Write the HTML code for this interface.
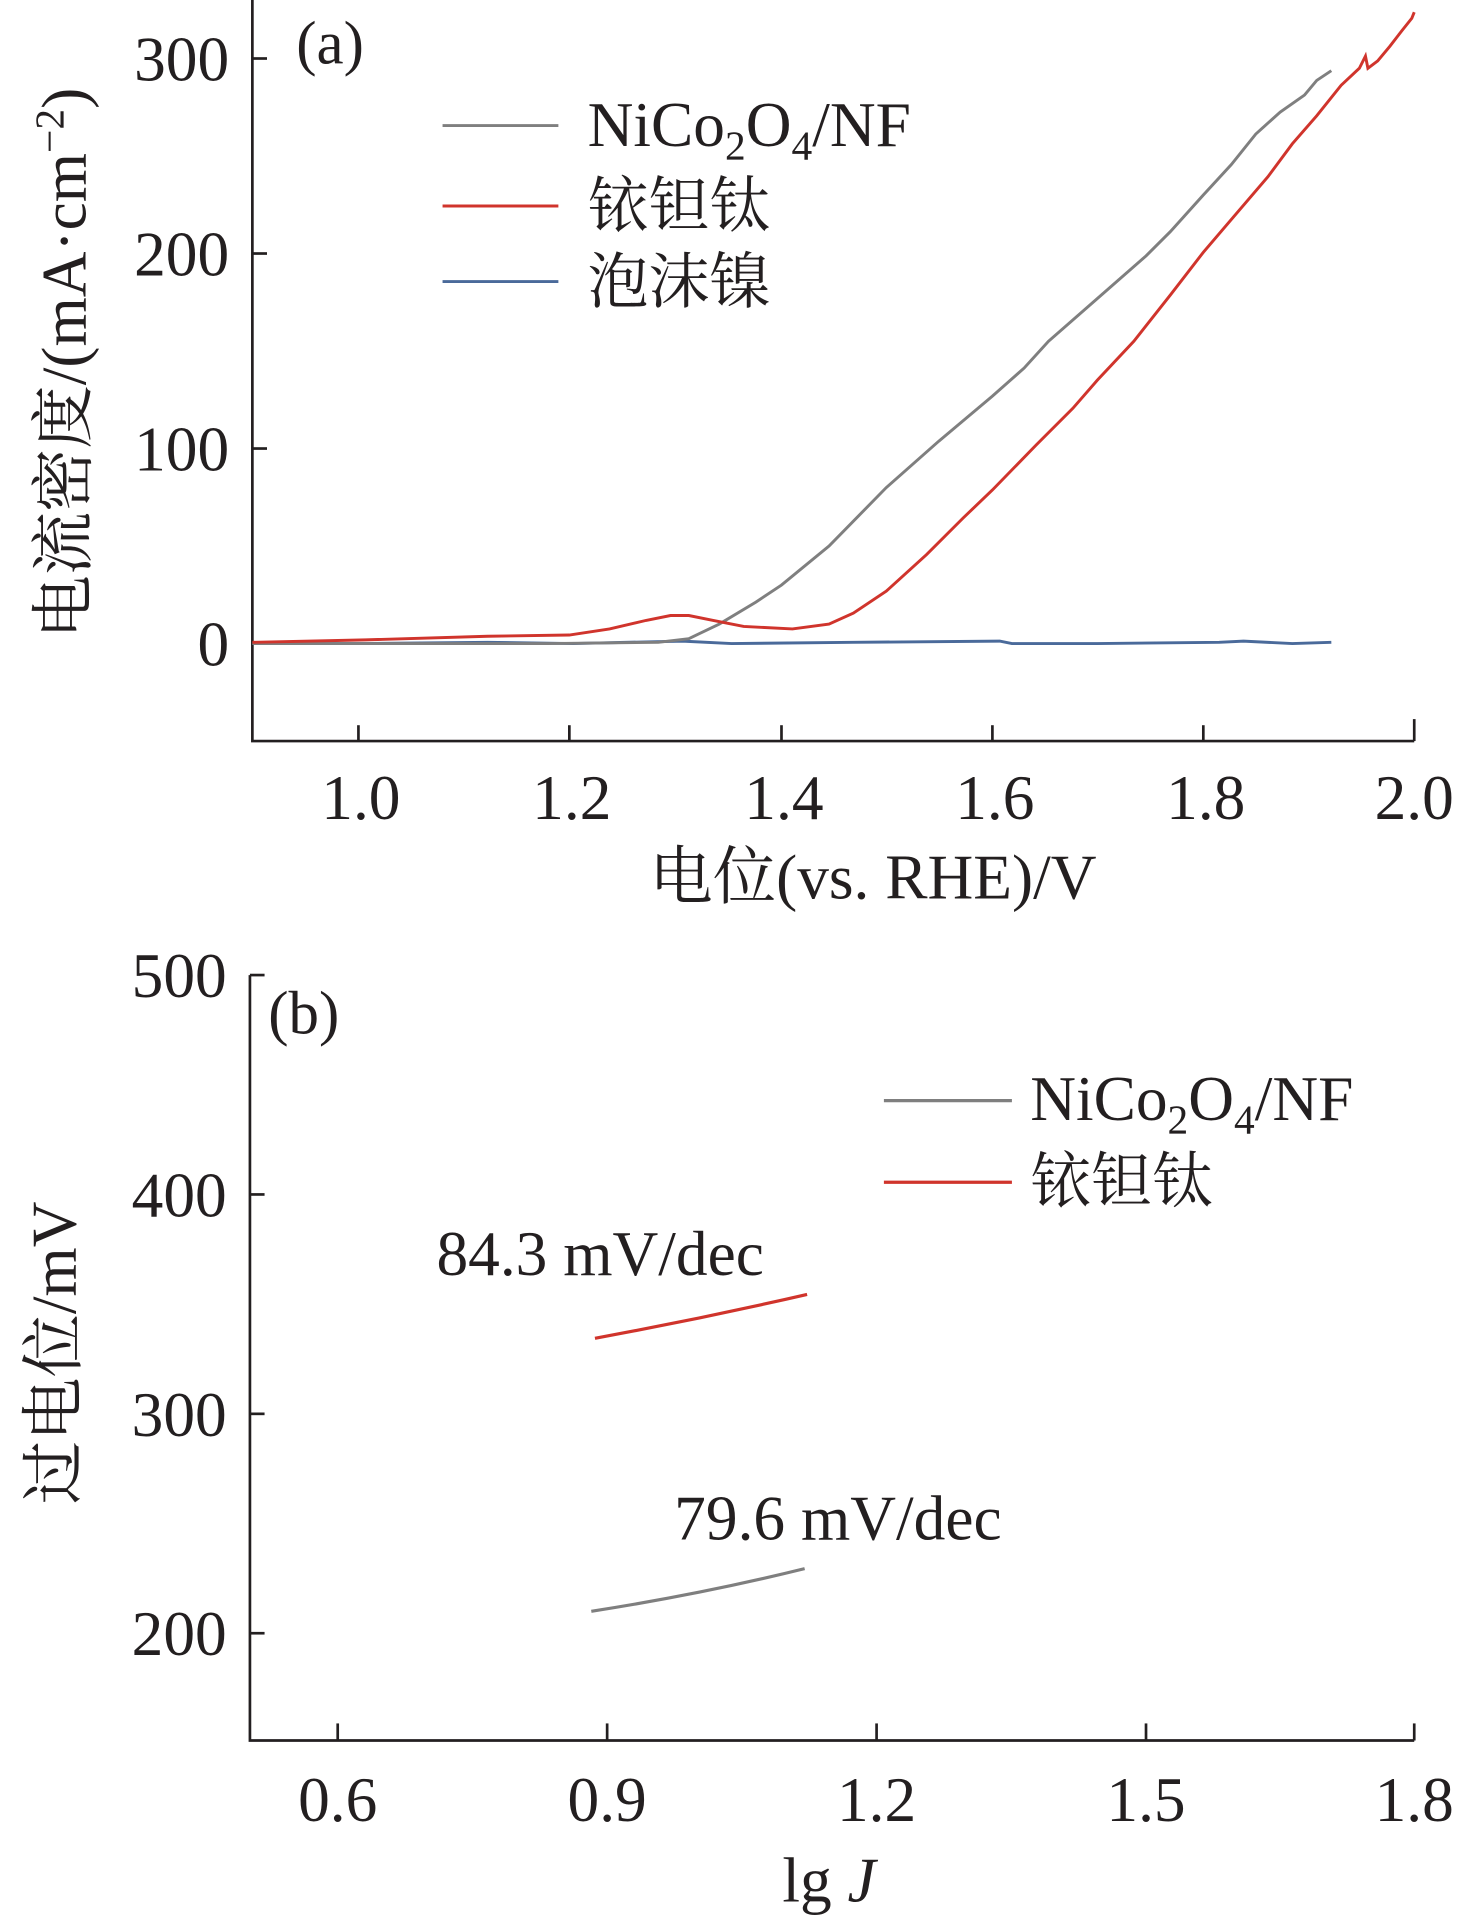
<!DOCTYPE html>
<html><head><meta charset="utf-8"><style>
html,body{margin:0;padding:0;background:#fff;}
svg{display:block;}
text{font-family:"Liberation Serif","Noto Serif CJK SC","Noto Sans CJK SC",serif;fill:#231f20;}
</style></head><body>
<svg width="1463" height="1916" viewBox="0 0 1200 1572" preserveAspectRatio="none" xmlns="http://www.w3.org/2000/svg">
<g stroke="#231f20" stroke-width="2.2" fill="none">
<polyline points="207,0 207,608 1160,608"/>
<line x1="207" y1="48" x2="219" y2="48"/><line x1="207" y1="208" x2="219" y2="208"/>
<line x1="207" y1="368" x2="219" y2="368"/><line x1="207" y1="528" x2="219" y2="528"/>
<line x1="294" y1="608" x2="294" y2="595"/><line x1="467" y1="608" x2="467" y2="595"/>
<line x1="641" y1="608" x2="641" y2="595"/><line x1="814" y1="608" x2="814" y2="595"/>
<line x1="987" y1="608" x2="987" y2="595"/><line x1="1160" y1="608" x2="1160" y2="590"/>
<polyline points="205,800 205,1428 1160,1428"/>
<line x1="205" y1="800" x2="217" y2="800"/><line x1="205" y1="980" x2="217" y2="980"/>
<line x1="205" y1="1160" x2="217" y2="1160"/><line x1="205" y1="1340" x2="217" y2="1340"/>
<line x1="277" y1="1428" x2="277" y2="1414"/><line x1="498" y1="1428" x2="498" y2="1414"/>
<line x1="719" y1="1428" x2="719" y2="1414"/><line x1="940" y1="1428" x2="940" y2="1414"/>
<line x1="1160" y1="1428" x2="1160" y2="1414"/>
</g>
<g fill="none" stroke-width="2.4">
<polyline stroke="#4a6a9a" points="207,528 300,528 400,527 470,528 560,526 600,528 700,527 820,526 830,528 900,528 1000,527 1020,526 1060,528 1092,527"/>
<polyline stroke="#7f7f7f" points="207,528 450,528 540,527 565,524 590,512 620,494 641,480 680,448 727,400 770,362 814,325 840,302 860,280 900,245 940,210 960,190 987,160 1010,135 1030,110 1050,92 1070,78 1080,66 1092,58"/>
<polyline stroke="#d0342c" points="207,527 300,525 400,522 467,521 500,516 530,509 550,505 565,505 585,509 610,514 650,516 680,512 700,503 727,485 760,455 790,425 814,402 850,365 880,335 900,312 930,280 960,242 987,207 1010,180 1040,145 1060,118 1080,95 1100,70 1115,56 1120,46 1122,56 1130,50 1140,38 1150,25 1158,15 1160,10"/>
</g>
<g stroke-width="2.4">
<line x1="363" y1="103" x2="458" y2="103" stroke="#7f7f7f"/>
<line x1="363" y1="169" x2="458" y2="169" stroke="#d0342c"/>
<line x1="363" y1="231" x2="458" y2="231" stroke="#4a6a9a"/>
</g>
<text x="482" y="120" font-size="52">NiCo<tspan font-size="34" dy="11">2</tspan><tspan dy="-11">O</tspan><tspan font-size="34" dy="11">4</tspan><tspan dy="-11">/NF</tspan></text>
<text x="482" y="186" font-size="50">铱钽钛</text>
<text x="482" y="248" font-size="50">泡沫镍</text>
<text x="243" y="52" font-size="50">(a)</text>
<g font-size="52" text-anchor="end">
<text x="188" y="66">300</text><text x="188" y="226">200</text><text x="188" y="386">100</text><text x="188" y="546">0</text>
</g>
<g font-size="52" text-anchor="middle">
<text x="296" y="672">1.0</text><text x="469" y="672">1.2</text><text x="643" y="672">1.4</text>
<text x="816" y="672">1.6</text><text x="989" y="672">1.8</text><text x="1160" y="672">2.0</text>
<text x="716" y="737">电位(vs. RHE)/V</text>
</g>
<text transform="translate(70,298) rotate(-90)" text-anchor="middle" font-size="52">电流密度/(mA·cm<tspan font-size="34" dy="-18">−2</tspan><tspan dy="18">)</tspan></text>
<g fill="none" stroke-width="2.6">
<path stroke="#d0342c" d="M488,1098 Q575,1082 662,1062"/>
<path stroke="#7f7f7f" d="M485,1322 Q575,1308 660,1287"/>
<line x1="725" y1="903" x2="830" y2="903" stroke="#7f7f7f"/>
<line x1="725" y1="970" x2="830" y2="970" stroke="#d0342c"/>
</g>
<text x="845" y="919" font-size="52">NiCo<tspan font-size="34" dy="11">2</tspan><tspan dy="-11">O</tspan><tspan font-size="34" dy="11">4</tspan><tspan dy="-11">/NF</tspan></text>
<text x="845" y="986" font-size="50">铱钽钛</text>
<text x="358" y="1046" font-size="52">84.3 mV/dec</text>
<text x="553" y="1263" font-size="52">79.6 mV/dec</text>
<text x="220" y="848" font-size="50">(b)</text>
<g font-size="52" text-anchor="end">
<text x="186" y="818">500</text><text x="186" y="998">400</text><text x="186" y="1178">300</text><text x="186" y="1358">200</text>
</g>
<g font-size="52" text-anchor="middle">
<text x="277" y="1494">0.6</text><text x="498" y="1494">0.9</text><text x="719" y="1494">1.2</text>
<text x="940" y="1494">1.5</text><text x="1160" y="1494">1.8</text>
<text x="680" y="1560">lg <tspan font-style="italic">J</tspan></text>
</g>
<text transform="translate(62,1110) rotate(-90)" text-anchor="middle" font-size="52">过电位/mV</text>
</svg>
</body></html>
